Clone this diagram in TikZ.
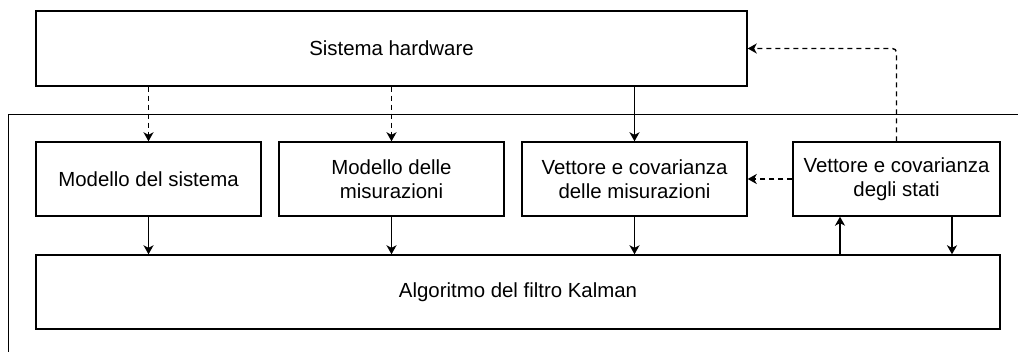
\documentclass[tikz,border=0pt]{standalone}
\usepackage{fontspec}
\setmainfont{Liberation Sans}
\usetikzlibrary{arrows.meta}

\tikzset{
  block/.style={draw, line width=1.4pt, inner sep=0pt, align=center,
    font=\fontsize{20.4}{23.5}\selectfont, minimum height=74pt},
  link/.style={line width=1.4pt, -{Stealth[length=9pt, width=10pt, inset=2.5pt]}},
  dlink/.style={link, dash pattern=on 5pt off 4pt},
  frame/.style={line width=0.8pt}
}

\begin{document}
\begin{tikzpicture}[x=1pt, y=-1pt]
  \useasboundingbox (0,0) rectangle (1018,352);

  % open enclosing frame around the filter part
  \draw[frame] (8,352) -- (8,114) -- (1018,114);

  % blocks
  \node[block, minimum width=711pt, minimum height=75pt] (hw) at (391.5,48.5) {Sistema hardware};
  \node[block, minimum width=225pt] (ms) at (148.5,179) {Modello del sistema};
  \node[block, minimum width=225pt] (mm) at (391.5,179) {Modello delle\\misurazioni};
  \node[block, minimum width=225pt] (vm) at (634.5,179) {Vettore e covarianza\\delle misurazioni};
  \node[block, minimum width=207pt] (vs) at (896.5,179) {Vettore e covarianza\\degli stati};
  \node[block, minimum width=964pt] (kf) at (518,292) {Algoritmo del filtro Kalman};

  % x positions of the two links between the state block and the filter
  \coordinate (upx) at (840,0);
  \coordinate (downx) at (952,0);

  % from the hardware to the models and measurements
  \draw[dlink] (hw.south -| ms.north) -- (ms.north);
  \draw[dlink] (hw.south -| mm.north) -- (mm.north);
  \draw[link] (hw.south -| vm.north) -- (vm.north);

  % feedback of the state estimate
  \draw[dlink, rounded corners=4pt] (vs.north) |- (hw.east);
  \draw[dlink] (vs.west) -- (vm.east);

  % into the Kalman filter
  \draw[link] (ms.south) -- (kf.north -| ms.south);
  \draw[link] (mm.south) -- (kf.north -| mm.south);
  \draw[link] (vm.south) -- (kf.north -| vm.south);
  \draw[link] (kf.north -| upx) -- (vs.south -| upx);
  \draw[link] (vs.south -| downx) -- (kf.north -| downx);
\end{tikzpicture}
\end{document}
